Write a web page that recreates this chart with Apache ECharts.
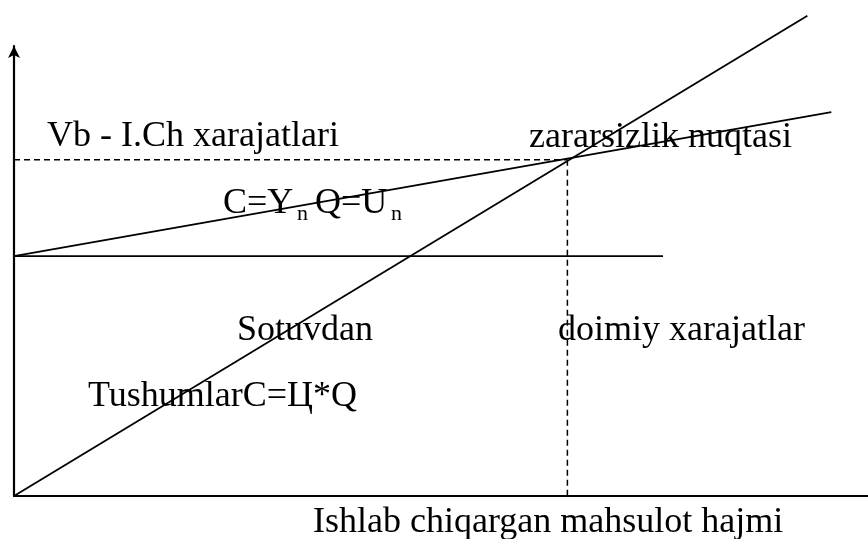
<!DOCTYPE html>
<html>
<head>
<meta charset="utf-8">
<script src="https://cdn.jsdelivr.net/npm/echarts@6/dist/echarts.min.js"></script>
<style>html,body{margin:0;padding:0;background:#fff;}#c{width:868px;height:539px;}</style>
</head>
<body>
<div id="c"></div>
<script>
// Break-even chart data (Q: 0..100, value: 0..100)
var revenueLine = [[0, 0], [92.9, 106.7]];          // Sotuvdan tushumlar C = Ц*Q
var totalCostLine = [[0, 53.3], [95.7, 85.3]];      // C = Y_n Q + U_n
var fixedCostLine = [[0, 53.3], [76, 53.3]];        // doimiy xarajatlar
var breakEvenQ = 64.8;
var breakEvenV = 74.7;
var dashH = [[0, breakEvenV], [breakEvenQ, breakEvenV]];
var dashV = [[breakEvenQ, breakEvenV], [breakEvenQ, 0]];
var labels = ['Vb - I.Ch xarajatlari', 'zararsizlik nuqtasi', 'Sotuvdan', 'doimiy xarajatlar', 'TushumlarC=Ц*Q', 'Ishlab chiqargan mahsulot hajmi'];
var formulaParts = ['C=Y', 'n', 'Q=U', 'n'];

var chart = echarts.init(document.getElementById('c'), null, {renderer: 'canvas'});
var FONT = '36px "Liberation Serif"';
var SUB = '22px "Liberation Serif"';
function txt(s, x, base, font) {
  return {type: 'text', silent: true, style: {text: s, x: x, y: base - (font === SUB ? 5 : 9), font: font || FONT, fill: '#000', verticalAlign: 'middle', align: 'left'}};
}
function solid(d) {
  return {type: 'line', data: d, symbol: 'none', clip: false, silent: true, lineStyle: {color: '#000', width: 1.8}};
}
function dashed(d) {
  return {type: 'line', data: d, symbol: 'none', clip: false, silent: true, lineStyle: {color: '#000', width: 1.5, type: [6, 4]}};
}
chart.setOption({
  animation: false,
  backgroundColor: '#fff',
  grid: {left: 14, right: 0, top: 46, bottom: 43, containLabel: false},
  xAxis: {type: 'value', min: 0, max: 100, axisLabel: {show: false}, axisTick: {show: false}, splitLine: {show: false},
    axisLine: {lineStyle: {color: '#000', width: 2.2}}},
  yAxis: {type: 'value', min: 0, max: 100, axisLabel: {show: false}, axisTick: {show: false}, splitLine: {show: false},
    axisLine: {symbol: ['none', 'arrow'], symbolSize: [9, 12], lineStyle: {color: '#000', width: 2.2}}},
  series: [solid(revenueLine), solid(totalCostLine), solid(fixedCostLine), dashed(dashH), dashed(dashV)],
  graphic: [
    txt(labels[0], 47, 146),
    txt(labels[1], 529, 147),
    txt(formulaParts[0], 223, 213),
    txt(formulaParts[1], 297, 219, SUB),
    txt(formulaParts[2], 315, 213),
    txt(formulaParts[3], 391, 219, SUB),
    txt(labels[2], 237, 340),
    txt(labels[3], 558, 340),
    txt(labels[4], 88, 406),
    txt(labels[5], 313, 532)
  ]
});
</script>
</body>
</html>
